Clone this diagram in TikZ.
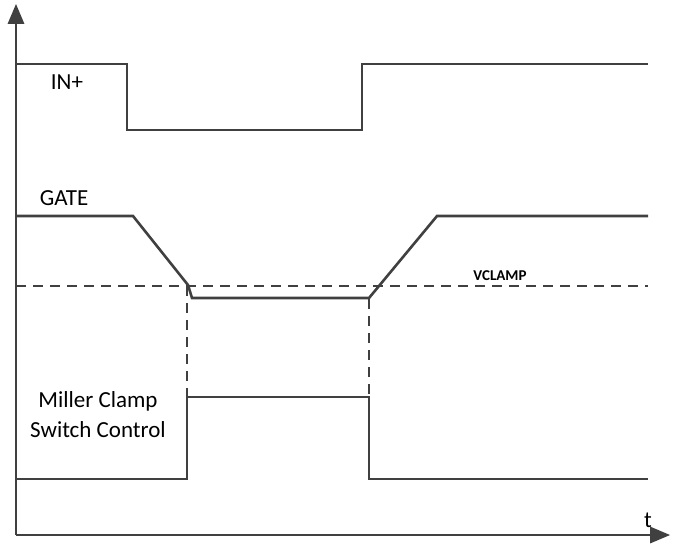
\documentclass[tikz,border=0pt]{standalone}
\usepackage{fontspec}
\setmainfont{Carlito}
\usetikzlibrary{arrows}

\begin{document}
\begin{tikzpicture}[line cap=butt,line join=miter,>=triangle 45,x=0.5pt,y=-0.5pt]%timing
			\useasboundingbox (0,0) rectangle (673,543);
			\definecolor{wavecol}{RGB}{64,64,64}
			\tikzset{wave/.style={line width=1.3pt,color=wavecol},
				guide/.style={line width=0.6pt,color=wavecol,dash pattern=on 5pt off 3.5pt},
				lbl/.style={font=\fontsize{11.5}{15}\selectfont,inner sep=0pt}}
			% axes
			\coordinate (orig) at (16,535);
			\coordinate (ytip) at (16,4);
			\coordinate (xtip) at (670,535);
			\draw [wave,->] (orig)-- (ytip);
			\draw [wave,->] (orig)-- (xtip);
			% IN+
			\draw [wave] (16,64)-- (127,64)-- (127,130)-- (362,130)-- (362,64)-- (648,64);
			% GATE
			\draw [wave] (16,216)-- (133,216)-- (188,285)-- (192,298)-- (369,298)-- (437,216)-- (648,216);
			% VCLAMP level and guides
			\draw [guide] (16,286)-- (648,286);
			\draw [guide] (187,286)-- (187,397);
			\draw [guide] (369,299)-- (369,397);
			% Miller clamp switch control
			\draw [wave] (16,479)-- (187,479)-- (187,397)-- (369,397)-- (369,479)-- (648,479);
			\node[lbl] (lin) at (67,82) {IN+};
			\node[lbl] (lgate) at (64,198) {GATE};
			\node[lbl,align=center] (lmiller) at (98,415) {Miller Clamp\\Switch Control};
			\node[font=\bfseries\fontsize{7.5}{9}\selectfont] (lclamp) at (500,276) {VCLAMP};
			\node[lbl] (lt) at (648,520) {t};
		\end{tikzpicture}
\end{document}
